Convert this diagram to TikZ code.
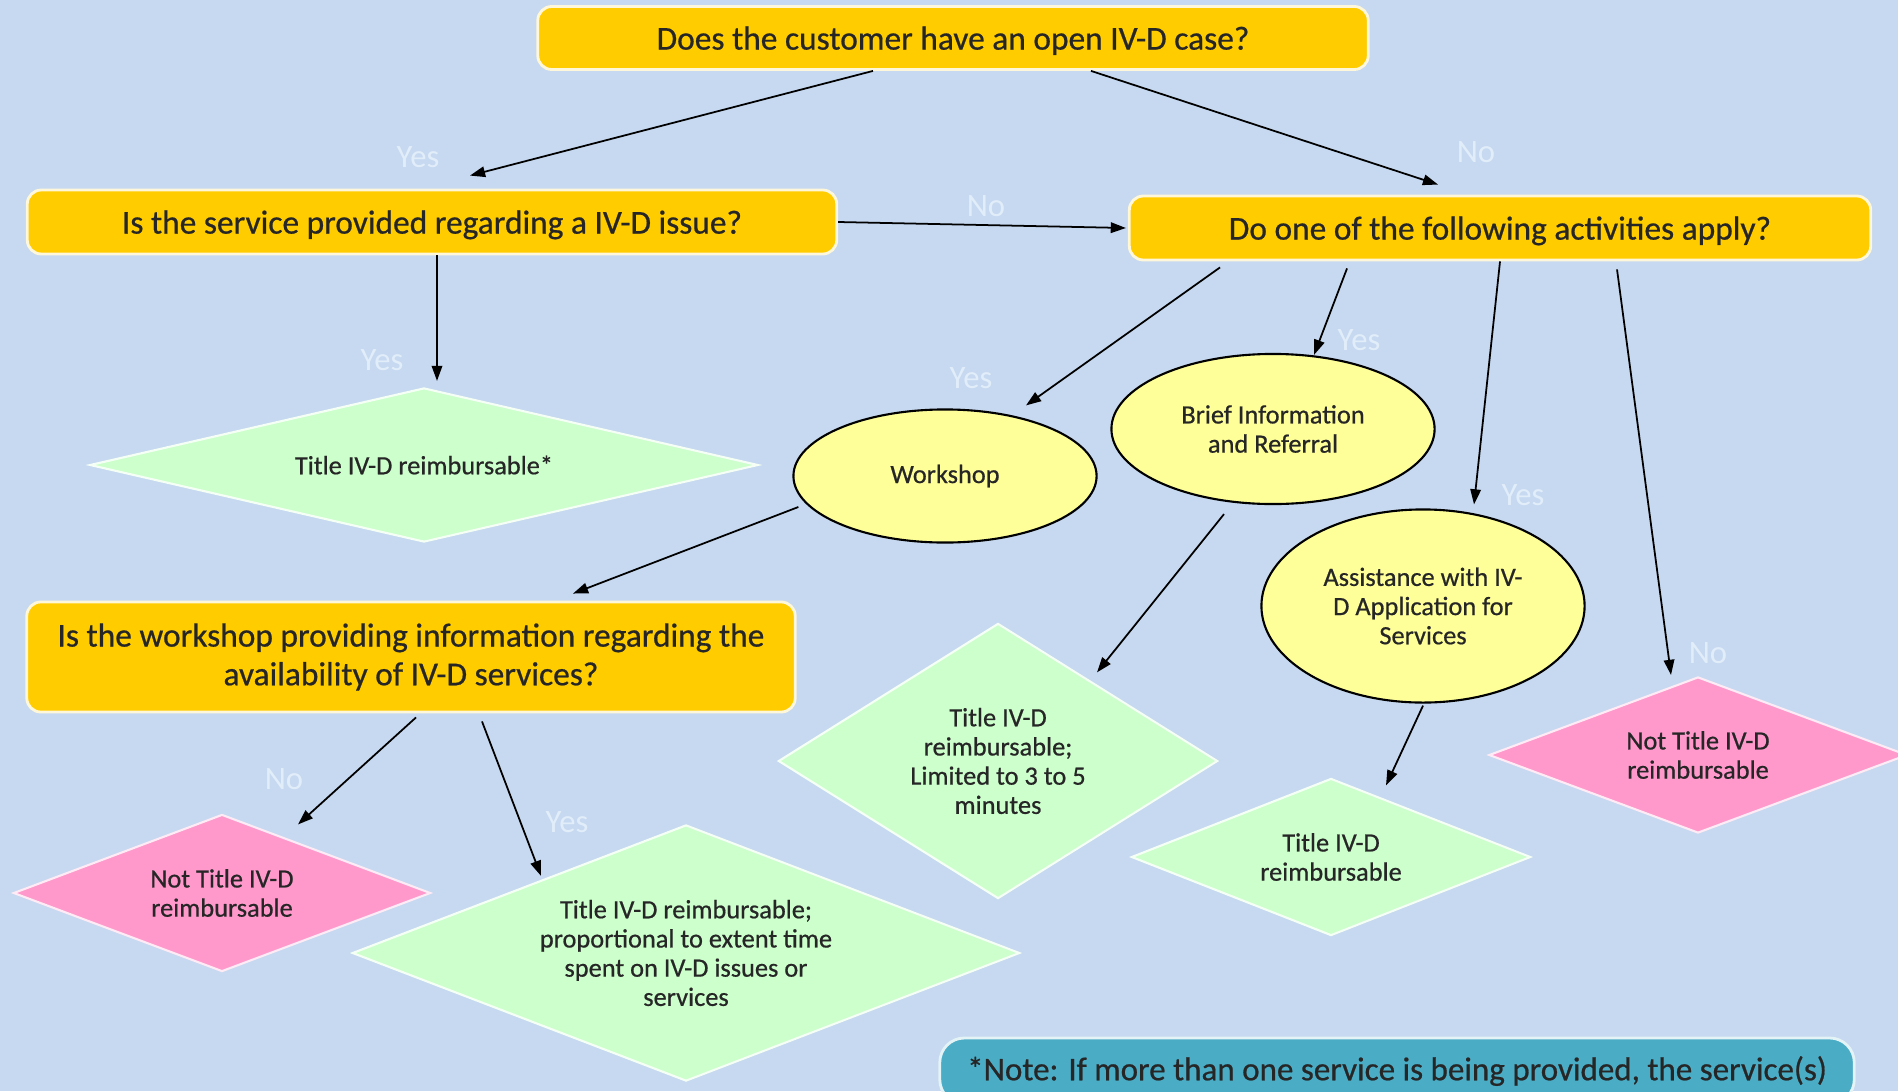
\documentclass[tikz,border=0pt]{standalone}
\usepackage{fontspec}
\setmainfont{Carlito}
\usetikzlibrary{calc, arrows.meta, shapes.geometric}
\definecolor{bgBlue}{HTML}{C6D9F0}
\definecolor{askYellow}{HTML}{FFCC00}
\definecolor{okGreen}{HTML}{CCFFCC}
\definecolor{notPink}{HTML}{FF99CC}
\definecolor{actYellow}{HTML}{FFFF99}
\definecolor{noteTeal}{HTML}{4BACC6}
\definecolor{lblWhite}{HTML}{E2EDFA}
\definecolor{txtGray}{HTML}{262626}

\newcommand{\boxfont}{\fontsize{9.5}{11}\selectfont\addfontfeature{FakeBold=0.6}}
\newcommand{\smallfont}{\fontsize{7.5}{8.3}\selectfont\addfontfeature{FakeBold=0.6}}

\tikzset{
  question/.style={draw=white!85!askYellow, line width=0.8pt, fill=askYellow, rounded corners=4pt,
    text=txtGray, font=\boxfont, align=center, inner sep=0pt},
  answer/.style={diamond, draw=white!80!okGreen, line width=0.6pt, fill=okGreen, inner sep=0pt,
    text=txtGray, font=\smallfont, align=center},
  refused/.style={answer, fill=notPink, draw=white!80!notPink},
  activity/.style={ellipse, draw=black, line width=0.6pt, fill=actYellow, inner sep=0pt,
    text=txtGray, font=\smallfont, align=center},
  branch/.style={text=lblWhite, font=\fontsize{9.3}{11}\selectfont, inner sep=0pt},
  flow/.style={-{Triangle[length=4.3pt,width=3pt]}, line width=0.5pt}
}

\begin{document}
\begin{tikzpicture}[x=0.01cm, y=-0.01cm]
    \useasboundingbox (0,0) rectangle (1898,1091);
    \clip (0,0) rectangle (1898,1091);
    \fill[bgBlue] (0,0) rectangle (1898,1091);

    % questions
    \node[question, text depth=0pt, minimum width=8.3cm, minimum height=0.63cm] (q0) at (953,38)
        {Does the customer have an open IV-D case?};
    \node[question, text depth=0pt, minimum width=8.09cm, minimum height=0.64cm] (q1) at (432,222)
        {Is the service provided regarding a IV-D issue?};
    \node[question, text depth=0pt, minimum width=7.41cm, minimum height=0.64cm] (q2) at (1500,228)
        {Do one of the following activities apply?};
    \node[question, minimum width=7.68cm, minimum height=1.10cm] (q3) at (411,657)
        {Is the workshop providing information regarding the\\availability of IV-D services?};

    % activities
    \node[activity, minimum width=3.03cm, minimum height=1.33cm] (e1) at (945,476) {Workshop};
    \node[activity, minimum width=3.23cm, minimum height=1.50cm] (e2) at (1273,429)
        {Brief Information\\and Referral};
    \node[activity, minimum width=3.23cm, minimum height=1.93cm] (e3) at (1423,606)
        {Assistance with IV-\\D Application for\\Services};

    % outcomes
    \node[answer, aspect=4.3, minimum width=6.68cm, minimum height=1.54cm] (d1) at (424,465)
        {Title IV-D reimbursable*};
    \node[refused, aspect=2.65, minimum width=4.17cm, minimum height=1.57cm] (d2) at (222,893)
        {Not Title IV-D\\reimbursable};
    \node[answer, aspect=2.6, minimum width=6.67cm, minimum height=2.56cm] (d3) at (686,953)
        {Title IV-D reimbursable;\\proportional to extent time\\spent on IV-D issues or\\services};
    \node[answer, aspect=1.6, minimum width=4.39cm, minimum height=2.75cm] (d4) at (998,761)
        {Title IV-D\\reimbursable;\\Limited to 3 to 5\\minutes};
    \node[answer, aspect=2.54, minimum width=3.99cm, minimum height=1.57cm] (d5) at (1331,857)
        {Title IV-D\\reimbursable};
    \node[refused, aspect=2.68, minimum width=4.18cm, minimum height=1.56cm] (d6) at (1698,755)
        {Not Title IV-D\\reimbursable};

    % note
    \node[draw=white!85!noteTeal, line width=0.8pt, fill=noteTeal, rounded corners=7pt,
        minimum width=9.14cm, minimum height=0.66cm, text=txtGray,
        font=\fontsize{9.4}{11}\selectfont\addfontfeature{FakeBold=0.6}] (note) at (1397,1071)
        {*Note: If more than one service is being provided, the service(s)};

    % connectors
    \draw[flow] ($(q0.south)+(-80,0)$) -- ($(q1.north)+(38,-13)$);
    \draw[flow] ($(q0.south)+(138,0)$) -- ($(q2.north)+(-62,-10)$);
    \draw[flow] (q1.east) -- ($(q2.west)+(-2,0)$);
    \draw[flow] ($(q1.south)+(5,0)$) -- ($(d1.north)+(13,-6)$);
    \draw[flow] ($(q2.south)+(-280,6)$) -- ($(e1.north)+(81,-3)$);
    \draw[flow] ($(q2.south)+(-153,7)$) -- ($(e2.north)+(41,2)$);
    \draw[flow] ($(q2.south)+(0,0)$) -- ($(e3.north)+(51,-4)$);
    \draw[flow] ($(q2.south)+(117,8)$) -- ($(d6.north)+(-27,-1)$);
    \draw[flow] ($(e1.west)+(6,31)$) -- ($(q3.north)+(162,-7)$);
    \draw[flow] ($(e2.south)+(-49,9)$) -- ($(d4.north)+(99,50)$);
    \draw[flow] ($(e3.south)+(0,2)$) -- ($(d5.north)+(55,8)$);
    \draw[flow] ($(q3.south)+(5,4)$) -- ($(d2.north)+(76,11)$);
    \draw[flow] ($(q3.south)+(71,8)$) -- ($(d3.north)+(-145,52)$);

    % branch labels
    \node[branch] (y1) at (418,157) {Yes};
    \node[branch] (n1) at (1476,152) {No};
    \node[branch] (n2) at (986,206) {No};
    \node[branch] (y2) at (382,360) {Yes};
    \node[branch] (y3) at (971,378) {Yes};
    \node[branch] (y4) at (1359,340) {Yes};
    \node[branch] (y5) at (1523,495) {Yes};
    \node[branch] (n3) at (1708,653) {No};
    \node[branch] (n4) at (284,779) {No};
    \node[branch] (y6) at (567,822) {Yes};
\end{tikzpicture}
\end{document}
